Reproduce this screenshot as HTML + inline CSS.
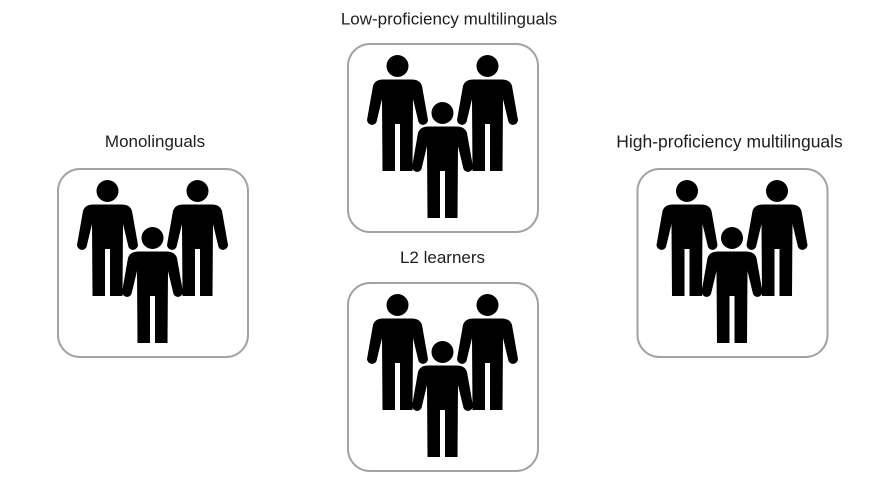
<!DOCTYPE html>
<html>
<head>
<meta charset="utf-8">
<style>
  html, body { margin: 0; padding: 0; background: #ffffff; }
  body { width: 885px; height: 498px; overflow: hidden; }
  svg { display: block; }
  text { font-family: "Liberation Sans", Arial, sans-serif; fill: #1e1e1e; }
</style>
</head>
<body>
<svg width="885" height="498" viewBox="0 0 885 498" xmlns="http://www.w3.org/2000/svg">
  <defs>
    <g id="person">
      <circle cx="0" cy="0" r="11"/>
      <path d="M -14 13.5 L 14 13.5 Q 22.5 13.5 24.5 20 L 30.5 54 A 5 5 0 0 1 21 56 L 15.5 33 L 15 105 L 2.5 105 L 2.5 58 L -2.5 58 L -2.5 105 L -15 105 L -15.5 33 L -21 56 A 5 5 0 0 1 -30.5 54 L -24.5 20 Q -22.5 13.5 -14 13.5 Z"/>
    </g>
    <g id="group">
      <rect x="0" y="0" width="190" height="188" rx="22" ry="22" fill="#ffffff" stroke="#a3a3a3" stroke-width="2"/>
      <g fill="#000000">
        <use href="#person" x="49.5" y="22"/>
        <use href="#person" x="139.5" y="22"/>
        <use href="#person" x="94.5" y="69"/>
      </g>
    </g>
  </defs>

  <!-- Labels -->
  <text x="155" y="147" font-size="17" text-anchor="middle">Monolinguals</text>
  <text x="449" y="24.5" font-size="17" text-anchor="middle">Low-proficiency multilinguals</text>
  <text x="442.5" y="263" font-size="17" text-anchor="middle">L2 learners</text>
  <text x="729.5" y="147.5" font-size="17.5" text-anchor="middle">High-proficiency multilinguals</text>

  <!-- Boxes -->
  <use href="#group" x="58" y="169"/>
  <use href="#group" x="348" y="44"/>
  <use href="#group" x="348" y="283"/>
  <use href="#group" x="637.5" y="169"/>
</svg>
</body>
</html>
